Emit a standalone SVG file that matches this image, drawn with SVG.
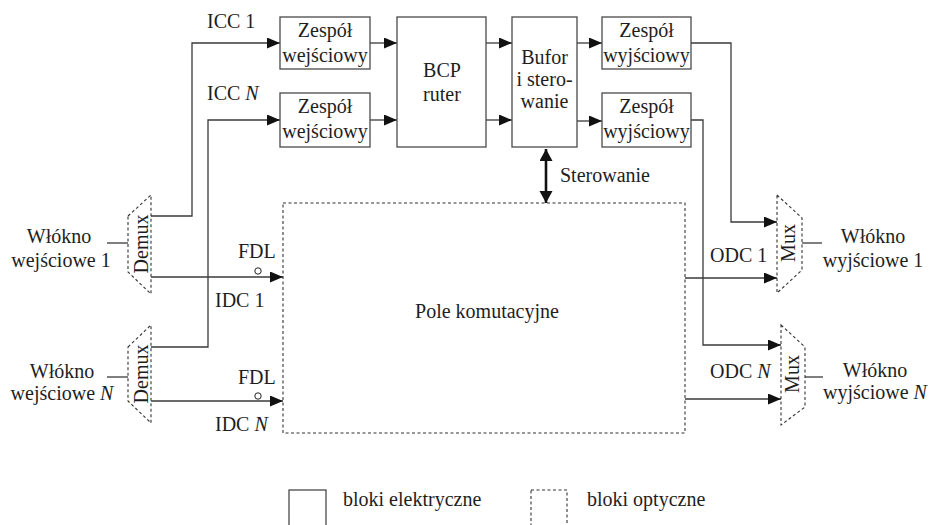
<svg xmlns="http://www.w3.org/2000/svg" width="931" height="525" viewBox="0 0 931 525">
  <style>
    text { font-family: "Liberation Serif", "Times New Roman", serif; font-size: 20px; fill: #1e1e1e; }
    .mid { text-anchor: middle; }
    .el { fill: #fff; stroke: #4a4a4a; stroke-width: 1.3; }
    .opt { fill: none; stroke: #333; stroke-width: 1.1; stroke-dasharray: 3 2.5; }
    .wire { fill: none; stroke: #3a3a3a; stroke-width: 1.3; }
    .arr { marker-end: url(#head); }
    .dbl { fill: none; stroke: #111; stroke-width: 2.6; marker-start: url(#headBig); marker-end: url(#headBig); }
  </style>
  <defs>
    <marker id="head" markerUnits="userSpaceOnUse" markerWidth="14" markerHeight="12" refX="13" refY="5.5" orient="auto">
      <path d="M0,0 L13,5.5 L0,11 Z" fill="#111"/>
    </marker>
    <marker id="headBig" markerUnits="userSpaceOnUse" markerWidth="14" markerHeight="14" refX="12" refY="6.5" orient="auto-start-reverse">
      <path d="M0,0 L12,6.5 L0,13 Z" fill="#111"/>
    </marker>
  </defs>

  <!-- connectors -->
  <g id="connectors">
    <!-- demux 1 -> ICC 1 -->
    <polyline class="wire arr" points="151,216 192,216 192,43 280,43"/>
    <!-- demux N -> ICC N -->
    <polyline class="wire arr" points="151,347 208,347 208,120 280,120"/>
    <!-- input units -> BCP router -->
    <line class="wire arr" x1="370" y1="43" x2="397" y2="43"/>
    <line class="wire arr" x1="370" y1="120" x2="397" y2="120"/>
    <!-- BCP router -> buffer/control -->
    <line class="wire arr" x1="486" y1="43" x2="512" y2="43"/>
    <line class="wire arr" x1="486" y1="120" x2="512" y2="120"/>
    <!-- buffer/control -> output units -->
    <line class="wire arr" x1="577" y1="43" x2="602" y2="43"/>
    <line class="wire arr" x1="577" y1="121" x2="602" y2="121"/>
    <!-- output units -> muxes -->
    <polyline class="wire arr" points="691,43 731,43 731,222 777,222"/>
    <polyline class="wire arr" points="691,120 703,120 703,345 781,345"/>
    <!-- control link to switching fabric -->
    <line class="dbl" x1="546" y1="149" x2="546" y2="203"/>
    <!-- data channels into the switching fabric -->
    <line class="wire arr" x1="151" y1="277" x2="283" y2="277"/>
    <line class="wire arr" x1="151" y1="401" x2="283" y2="401"/>
    <!-- data channels out of the switching fabric -->
    <line class="wire arr" x1="685" y1="278" x2="777" y2="278"/>
    <line class="wire arr" x1="685" y1="399" x2="781" y2="399"/>
    <!-- fibre stubs -->
    <line class="wire" x1="107" y1="243" x2="128" y2="243"/>
    <line class="wire" x1="107" y1="377" x2="128" y2="377"/>
    <line class="wire" x1="802" y1="243" x2="822" y2="243"/>
    <line class="wire" x1="805" y1="377" x2="823" y2="377"/>
    <!-- FDL markers -->
    <circle cx="258" cy="271" r="3.2" fill="#fff" stroke="#222" stroke-width="1"/>
    <circle cx="258" cy="396" r="3.2" fill="#fff" stroke="#222" stroke-width="1"/>
  </g>

  <!-- electronic blocks -->
  <g id="in1">
    <rect class="el" x="280" y="17" width="90" height="52"/>
    <text class="mid" x="325" y="37">Zespół</text>
    <text class="mid" x="325" y="62">wejściowy</text>
  </g>
  <g id="inN">
    <rect class="el" x="280" y="93" width="90" height="54"/>
    <text class="mid" x="325" y="113">Zespół</text>
    <text class="mid" x="325" y="138">wejściowy</text>
  </g>
  <g id="bcp">
    <rect class="el" x="397" y="17" width="89" height="130"/>
    <text class="mid" x="442" y="77">BCP</text>
    <text class="mid" x="442" y="101">ruter</text>
  </g>
  <g id="buffer">
    <rect class="el" x="512" y="17" width="65" height="130"/>
    <text class="mid" x="544.5" y="64">Bufor</text>
    <text class="mid" x="544.5" y="86">i stero-</text>
    <text class="mid" x="544.5" y="108">wanie</text>
  </g>
  <g id="out1">
    <rect class="el" x="602" y="17" width="89" height="52"/>
    <text class="mid" x="646.5" y="37">Zespół</text>
    <text class="mid" x="646.5" y="62">wyjściowy</text>
  </g>
  <g id="outN">
    <rect class="el" x="602" y="93" width="89" height="54"/>
    <text class="mid" x="646.5" y="113">Zespół</text>
    <text class="mid" x="646.5" y="138">wyjściowy</text>
  </g>

  <!-- optical blocks -->
  <g id="fabric">
    <rect class="opt" x="283" y="203" width="402" height="230"/>
    <text class="mid" x="487" y="318">Pole komutacyjne</text>
  </g>
  <g id="demux1">
    <polygon class="opt" points="128,216 151,195 151,294 128,272"/>
    <text class="mid" transform="translate(148,244) rotate(-90)">Demux</text>
  </g>
  <g id="demuxN">
    <polygon class="opt" points="128,347 151,325 151,423 128,401"/>
    <text class="mid" transform="translate(148,374) rotate(-90)">Demux</text>
  </g>
  <g id="mux1">
    <polygon class="opt" points="777,195 802,218 802,270 777,293"/>
    <text class="mid" transform="translate(795,243) rotate(-90)">Mux</text>
  </g>
  <g id="muxN">
    <polygon class="opt" points="781,325 805,347 805,407 781,425"/>
    <text class="mid" transform="translate(799,374) rotate(-90)">Mux</text>
  </g>

  <!-- labels -->
  <g id="labels">
    <text x="207" y="28">ICC 1</text>
    <text x="207" y="100">ICC <tspan font-style="italic">N</tspan></text>
    <text x="560" y="182">Sterowanie</text>
    <text x="238" y="258">FDL</text>
    <text x="238" y="384">FDL</text>
    <text x="215" y="307">IDC 1</text>
    <text x="215" y="431">IDC <tspan font-style="italic">N</tspan></text>
    <text x="710" y="262">ODC 1</text>
    <text x="710" y="378">ODC <tspan font-style="italic">N</tspan></text>
    <text class="mid" x="59" y="243">Włókno</text>
    <text class="mid" x="61" y="267">wejściowe 1</text>
    <text class="mid" x="62" y="378">Włókno</text>
    <text class="mid" x="62" y="400">wejściowe <tspan font-style="italic">N</tspan></text>
    <text class="mid" x="873" y="243">Włókno</text>
    <text class="mid" x="873" y="267">wyjściowe 1</text>
    <text class="mid" x="875" y="377">Włókno</text>
    <text class="mid" x="875" y="399">wyjściowe <tspan font-style="italic">N</tspan></text>
  </g>

  <!-- legend -->
  <g id="legend">
    <rect class="el" x="289" y="490" width="37" height="40"/>
    <text x="343" y="506">bloki elektryczne</text>
    <rect class="opt" x="531" y="490" width="36" height="40"/>
    <text x="587" y="506">bloki optyczne</text>
  </g>
</svg>
